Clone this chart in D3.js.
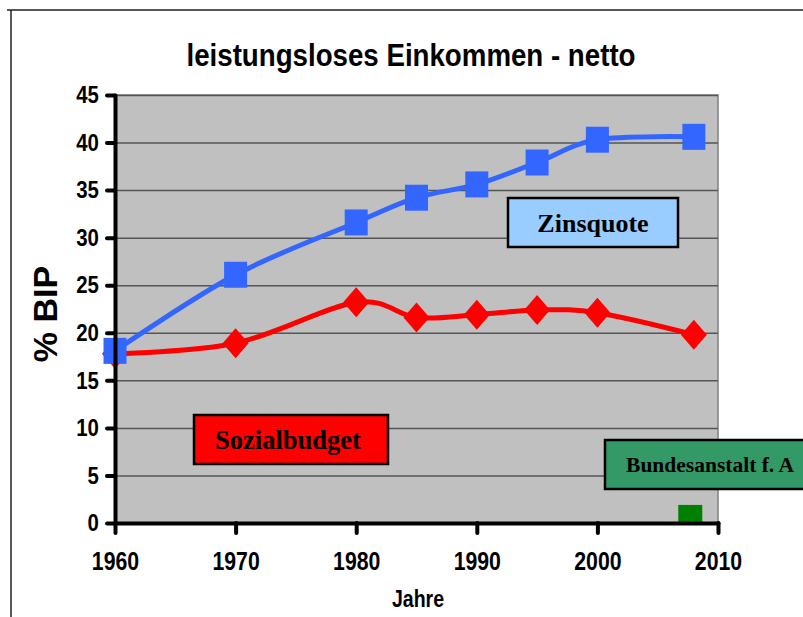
<!DOCTYPE html>
<html lang="de">
<head>
<meta charset="utf-8">
<title>leistungsloses Einkommen - netto</title>
<script src="https://cdn.jsdelivr.net/npm/d3@7"></script>
<style>
  body { margin: 0; background: #fff; }
  svg text { font-family: "Liberation Sans", Arial, sans-serif; font-weight: bold; }
  .note { font-family: "Liberation Serif", "Times New Roman", serif !important; }
</style>
</head>
<body>
<script>
// data
var years = [1960, 1970, 1980, 1985, 1990, 1995, 2000, 2008];
var zinsquote = [18.1, 26.1, 31.6, 34.2, 35.6, 37.9, 40.3, 40.6];
var sozialbudget = [17.8, 18.9, 23.2, 21.6, 21.9, 22.4, 22.1, 19.8];
var baYears = [2007.7];
var baValues = [1.9];
var xTicks = [1960, 1970, 1980, 1990, 2000, 2010];
var yTicks = [0, 5, 10, 15, 20, 25, 30, 35, 40, 45];

var W = 803, H = 617;
var pLeft = 115, pRight = 718, pTop = 95, pBottom = 523;
var squeeze = 0.85; // the original text is horizontally condensed

var svg = d3.select("body").append("svg")
  .attr("width", W).attr("height", H);

// outer frame
svg.append("path")
  .attr("d", "M7,10 H" + (W + 5) + " M11,10 V" + (H + 5))
  .attr("stroke", "#222").attr("stroke-width", 1.5).attr("fill", "none");

var x = d3.scaleLinear().domain([1960, 2010]).range([pLeft, pRight]);
var y = d3.scaleLinear().domain([0, 45]).range([pBottom, pTop]);

// plot area
svg.append("rect")
  .attr("x", pLeft).attr("y", pTop)
  .attr("width", pRight - pLeft).attr("height", pBottom - pTop)
  .attr("fill", "#c0c0c0").attr("stroke", "#808080").attr("stroke-width", 1.5);

// gridlines
svg.append("g")
  .attr("transform", "translate(" + pLeft + ",0)")
  .call(d3.axisLeft(y).tickValues(yTicks.slice(1)).tickSize(-(pRight - pLeft)).tickFormat(""))
  .call(function(g) {
    g.select(".domain").remove();
    g.selectAll("line").attr("stroke", "#555").attr("stroke-width", 1.5);
  });

// title
svg.append("text")
  .attr("x", 411).attr("y", 66)
  .attr("text-anchor", "middle")
  .attr("font-size", 32)
  .attr("textLength", 449)
  .attr("lengthAdjust", "spacingAndGlyphs")
  .text("leistungsloses Einkommen - netto");

// Bundesanstalt bar
svg.selectAll(".ba").data(baYears).enter().append("rect")
  .attr("x", function(d) { return x(d) - 12; })
  .attr("y", function(d, i) { return y(baValues[i]); })
  .attr("width", 24)
  .attr("height", function(d, i) { return y(0) - y(baValues[i]); })
  .attr("fill", "#008000");

var line = d3.line()
  .x(function(d) { return x(d[0]); })
  .y(function(d) { return y(d[1]); })
  .curve(d3.curveCardinal.tension(0));

var redData = years.map(function(d, i) { return [d, sozialbudget[i]]; });
var blueData = years.map(function(d, i) { return [d, zinsquote[i]]; });

// Sozialbudget
svg.append("path").datum(redData)
  .attr("d", line).attr("fill", "none")
  .attr("stroke", "#ff0000").attr("stroke-width", 5);
svg.selectAll(".dia").data(redData).enter().append("path")
  .attr("d", "M0,-15 L13,0 L0,15 L-13,0 Z")
  .attr("transform", function(d) { return "translate(" + x(d[0]) + "," + y(d[1]) + ")"; })
  .attr("fill", "#ff0000");

// Zinsquote
svg.append("path").datum(blueData)
  .attr("d", line).attr("fill", "none")
  .attr("stroke", "#3366ff").attr("stroke-width", 5);
svg.selectAll(".sq").data(blueData).enter().append("rect")
  .attr("x", function(d) { return x(d[0]) - 11.5; })
  .attr("y", function(d) { return y(d[1]) - 13; })
  .attr("width", 23).attr("height", 26)
  .attr("fill", "#3366ff");

// axes
var yAxis = svg.append("g")
  .attr("transform", "translate(" + pLeft + ",0)")
  .call(d3.axisLeft(y).tickValues(yTicks).tickSizeInner(8).tickSizeOuter(0).tickPadding(11));
var xAxis = svg.append("g")
  .attr("transform", "translate(0," + pBottom + ")")
  .call(d3.axisBottom(x).tickValues(xTicks).tickFormat(d3.format("d")).tickSizeInner(10).tickSizeOuter(0).tickPadding(19));

[yAxis, xAxis].forEach(function(g) {
  g.select(".domain").attr("stroke", "#000").attr("stroke-width", 4).attr("stroke-linecap", "round");
  g.selectAll(".tick line").attr("stroke", "#000").attr("stroke-width", 4).attr("stroke-linecap", "round");
  g.selectAll("text").attr("fill", "#000")
    .attr("transform", "scale(" + squeeze + ",1)");
});
yAxis.selectAll("text").attr("font-size", 24);
xAxis.selectAll("text").attr("font-size", 25);

// axis titles
svg.append("text")
  .attr("transform", "translate(57,314) rotate(-90)")
  .attr("text-anchor", "middle")
  .attr("font-size", 34)
  .text("% BIP");
svg.append("text")
  .attr("transform", "translate(418,607) scale(" + squeeze + ",1)")
  .attr("text-anchor", "middle")
  .attr("font-size", 23)
  .text("Jahre");

// labels in boxes
var notes = [
  { text: "Zinsquote", x: 508, y: 198, w: 170, h: 49, fill: "#99ccff", size: 26, tx: 593 },
  { text: "Sozialbudget", x: 194, y: 415, w: 194, h: 49, fill: "#ff0000", size: 26.5, tx: 288 },
  { text: "Bundesanstalt f. A", x: 605, y: 440, w: 230, h: 49, fill: "#339966", size: 21.5, tx: 710 }
];
notes.forEach(function(n) {
  svg.append("rect")
    .attr("x", n.x).attr("y", n.y).attr("width", n.w).attr("height", n.h)
    .attr("fill", n.fill).attr("stroke", "#000").attr("stroke-width", 2.5);
  svg.append("text")
    .attr("class", "note")
    .attr("x", n.tx).attr("y", n.y + n.h / 2)
    .attr("dy", "0.35em")
    .attr("text-anchor", "middle")
    .attr("font-size", n.size)
    .text(n.text);
});
</script>
</body>
</html>
